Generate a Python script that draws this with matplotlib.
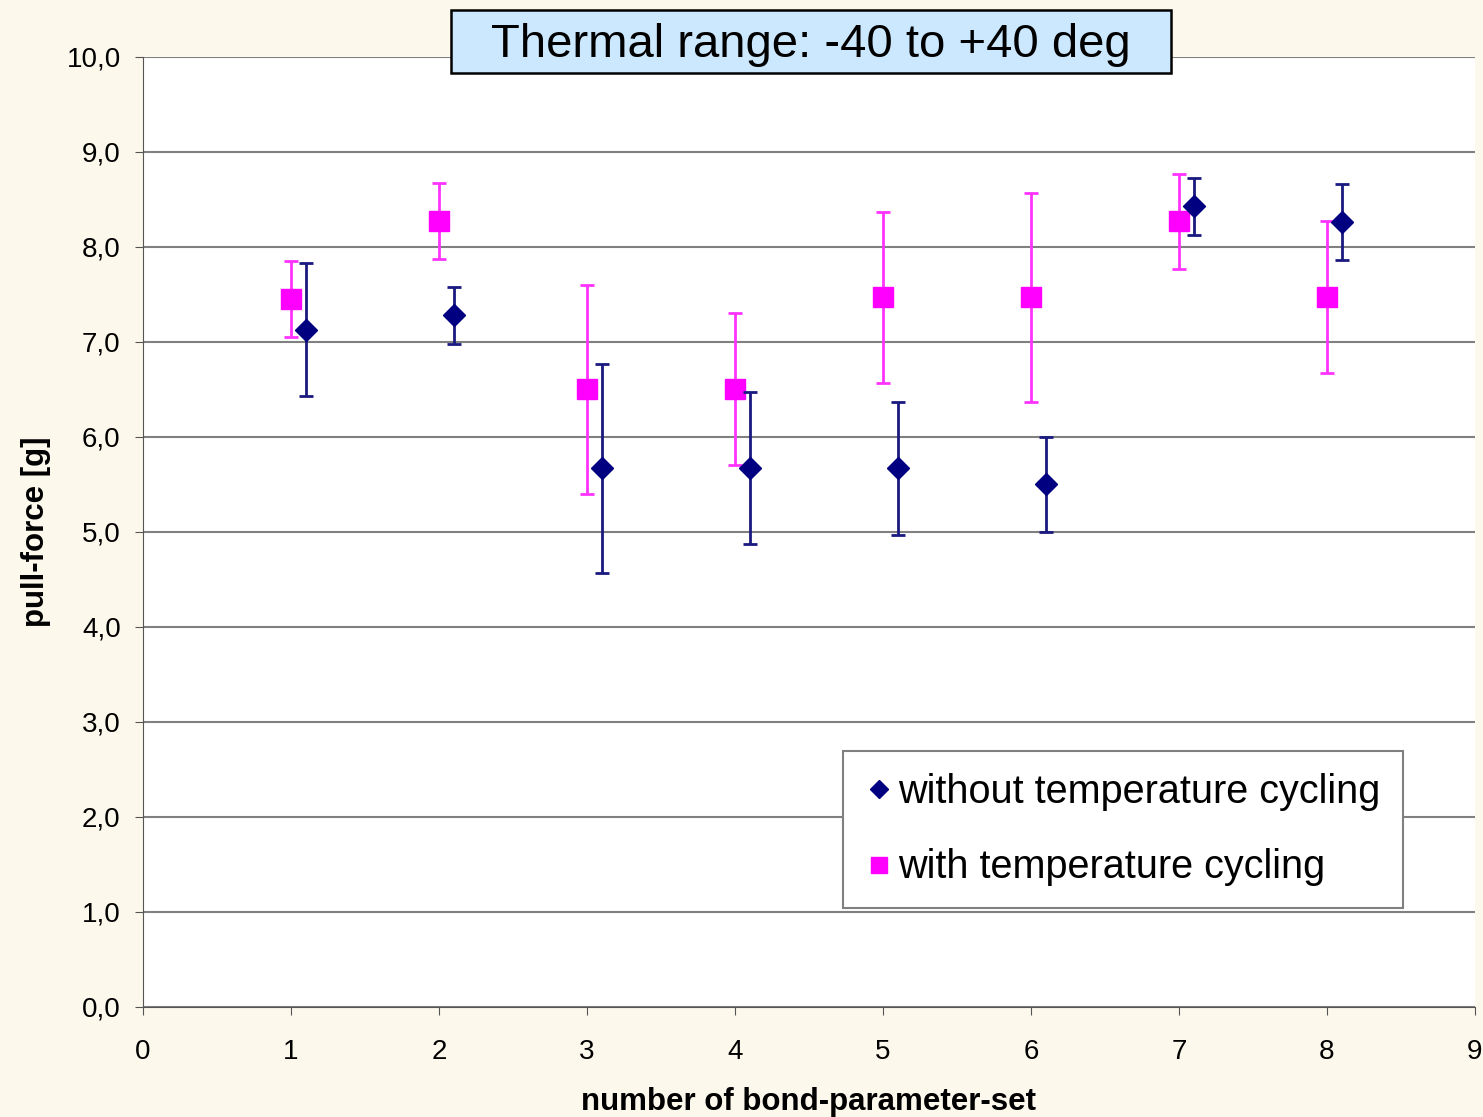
import numpy as np
import matplotlib
matplotlib.use('Agg')
from matplotlib import pyplot as plt
from matplotlib.ticker import FuncFormatter
from matplotlib.lines import Line2D
from matplotlib.patches import Rectangle

plt.rcParams['font.family'] = ['Liberation Sans', 'DejaVu Sans']

# bond-parameter-set numbers
sets = np.arange(1, 9)

# with temperature cycling (magenta squares)
with_mean = [7.45, 8.27, 6.5, 6.5, 7.47, 7.47, 8.27, 7.47]
with_err = [0.4, 0.4, 1.1, 0.8, 0.9, 1.1, 0.5, 0.8]

# without temperature cycling (navy diamonds)
without_mean = [7.13, 7.28, 5.67, 5.67, 5.67, 5.5, 8.43, 8.26]
without_err = [0.7, 0.3, 1.1, 0.8, 0.7, 0.5, 0.3, 0.4]

offset = 0.1
navy = '#000080'
pink = '#ff00ff'

fig = plt.figure(figsize=(14.83, 11.17), dpi=100, facecolor='#fdf8ec')
ax = fig.add_axes([0.0964, 0.0985, 0.8982, 0.8505])
ax.set_facecolor('white')

ax.errorbar(sets + offset, without_mean, yerr=without_err, fmt='D', color=navy,
            ecolor='#1a1a80', markersize=11, elinewidth=2, capsize=5, capthick=2, zorder=4)
ax.errorbar(sets, with_mean, yerr=with_err, fmt='s', color=pink,
            ecolor='#ff33ff', markersize=14, elinewidth=2, capsize=5, capthick=2, zorder=3)

ax.set_xlim(0, 9)
ax.set_ylim(0, 10)
ax.set_xticks(range(0, 10))
ax.set_yticks(np.arange(0, 11, 1))
ax.yaxis.set_major_formatter(FuncFormatter(lambda v, p: ('%.1f' % v).replace('.', ',')))
ax.grid(axis='y', color='#808080', lw=1.5, zorder=0)
ax.set_axisbelow(True)

for s in ['top', 'right']:
    ax.spines[s].set_visible(False)
ax.spines['left'].set_color('#555555')
ax.spines['bottom'].set_color('#555555')
ax.tick_params(axis='both', labelsize=20, direction='out', length=6, color='#555555')
ax.tick_params(axis='x', pad=17)
ax.tick_params(axis='y', pad=10)

ax.set_ylabel('pull-force [g]', fontsize=22.5, fontweight='bold', labelpad=11)
ax.set_xlabel('number of bond-parameter-set', fontsize=22.5, fontweight='bold', labelpad=16)

# legend shows markers only, no error bars
handles = [Line2D([], [], ls='none', marker='D', color=navy, markersize=11),
           Line2D([], [], ls='none', marker='s', color=pink, markersize=14)]
labels = ['without temperature cycling', 'with temperature cycling']
leg = ax.legend(handles, labels, loc='lower left', bbox_to_anchor=(0.5255, 0.104, 0.4205, 0.172),
                fontsize=28.5, frameon=True, fancybox=False, edgecolor='#808080',
                handletextpad=0.15, borderpad=0.55, labelspacing=0.95, markerscale=0.8,
                handlelength=0.7, borderaxespad=0, mode='expand')
leg.get_frame().set_linewidth(1.5)
leg.get_frame().set_alpha(1)

# title box
fig.patches.append(Rectangle((0.3041, 0.9346), 0.4855, 0.0564, transform=fig.transFigure,
                             facecolor='#cce8ff', edgecolor='black', lw=1.8, zorder=5))
fig.text(0.5469, 0.9595, 'Thermal range: -40 to +40 deg', fontsize=34, ha='center', va='center',
         zorder=6)

fig.savefig('out.png', dpi=100, facecolor=fig.get_facecolor())
